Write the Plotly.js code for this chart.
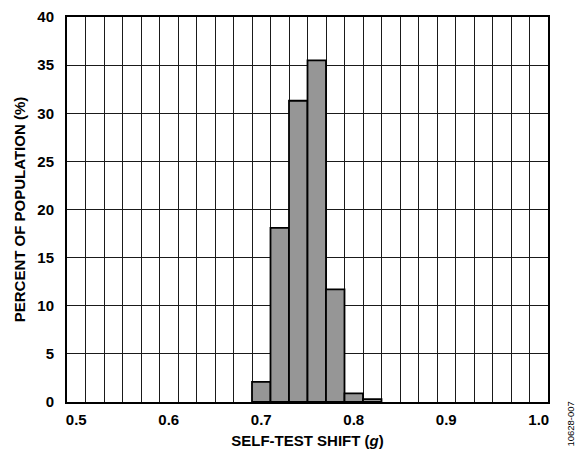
<!DOCTYPE html>
<html>
<head>
<meta charset="utf-8">
<script src="https://cdn.plot.ly/plotly-3.0.1.min.js"></script>
<style>html,body{margin:0;padding:0;background:#fff;}#chart{width:579px;height:450px;}</style>
</head>
<body>
<div id="chart"></div>
<script>
const binCenters = [0.70, 0.72, 0.74, 0.76, 0.78, 0.80, 0.82];
const percents = [2.1, 18.1, 31.3, 35.5, 11.7, 0.9, 0.3];
const xTickVals = [0.5, 0.6, 0.7, 0.8, 0.9, 1.0];
const xTickText = ['0.5', '0.6', '0.7', '0.8', '0.9', '1.0'];
const yTickVals = [0, 5, 10, 15, 20, 25, 30, 35, 40];

const fam = 'Liberation Sans, Arial, sans-serif';

const trace = {
  type: 'bar',
  x: binCenters,
  y: percents,
  width: 0.02,
  marker: {color: '#969696', line: {color: '#000', width: 1.8}},
  hoverinfo: 'skip'
};

const layout = {
  width: 579, height: 450,
  margin: {l: 67, r: 31, t: 17, b: 48},
  paper_bgcolor: '#fff', plot_bgcolor: '#fff',
  showlegend: false,
  font: {family: fam, size: 15, color: '#000'},
  xaxis: {
    range: [0.49, 1.01],
    tickmode: 'array', tickvals: xTickVals, ticktext: xTickText,
    showgrid: false, zeroline: false,
    ticks: '', ticklabelstandoff: 3,
    tickfont: {family: fam, size: 15, color: '#000', weight: 'bold'},
    showline: true, mirror: true, linecolor: '#000', linewidth: 2,
    minor: {tick0: 0.49, dtick: 0.02, showgrid: true, gridcolor: '#1a1a1a', gridwidth: 1, ticks: ''},
    title: {text: '<b>SELF-TEST SHIFT (<i>g</i>)</b>', font: {family: fam, size: 15, color: '#000'}, standoff: 8},
    fixedrange: true
  },
  yaxis: {
    range: [0, 40],
    tickmode: 'array', tickvals: yTickVals,
    showgrid: true, gridcolor: '#1a1a1a', gridwidth: 1,
    zeroline: false, ticks: '', ticklabelstandoff: 8,
    tickfont: {family: fam, size: 15, color: '#000', weight: 'bold'},
    showline: true, mirror: true, linecolor: '#000', linewidth: 2,
    title: {text: '<b>PERCENT OF POPULATION (%)</b>', font: {family: fam, size: 15, color: '#000'}, standoff: 8},
    fixedrange: true
  },
  annotations: [{
    text: '10628-007', xref: 'paper', yref: 'paper', x: 1.047, y: -0.057,
    xanchor: 'center', yanchor: 'middle', textangle: -90, showarrow: false,
    font: {family: fam, size: 9.5, color: '#000'}
  }]
};

Plotly.newPlot('chart', [trace], layout, {displayModeBar: false, staticPlot: true});
</script>
</body>
</html>
